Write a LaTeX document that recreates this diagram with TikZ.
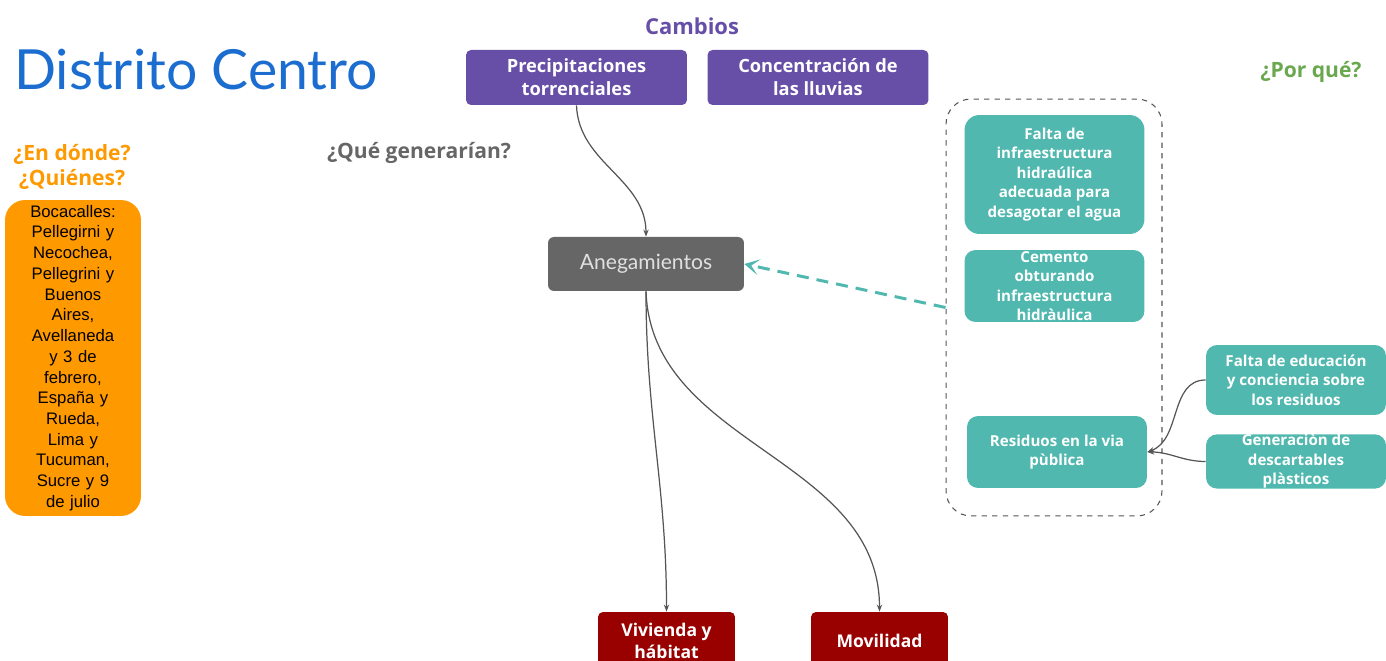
\documentclass[tikz,border=0pt]{standalone}
\usepackage{fontspec}
\setmainfont{Open Sans}
\newfontfamily\titlefont{Lato}
\newfontfamily\arialfont{Liberation Sans}
\usetikzlibrary{arrows.meta}

\definecolor{morado}{HTML}{674EA7}
\definecolor{verdeagua}{HTML}{50B8AF}
\definecolor{naranja}{HTML}{FF9900}
\definecolor{bordo}{HTML}{990000}
\definecolor{gris}{HTML}{666666}
\definecolor{azul}{HTML}{1C6DD0}
\definecolor{verde}{HTML}{6AA84F}
\definecolor{linea}{HTML}{555555}

\begin{document}
\begin{tikzpicture}[x=0.02cm, y=-0.02cm,
    cambio/.style={fill=morado, rounded corners=0.1cm, text=white, align=center,
      minimum width=4.42cm, minimum height=1.1cm, inner sep=0pt,
      font=\bfseries\fontsize{10.4}{13.1}\selectfont},
    causa/.style={fill=verdeagua, rounded corners=0.22cm, text=white, align=center,
      minimum width=3.6cm, inner sep=0pt, font=\bfseries\fontsize{8.6}{11.1}\selectfont},
    efecto/.style={fill=bordo, rounded corners=0.1cm, text=white, align=center,
      minimum width=2.74cm, minimum height=1.16cm, inner sep=0pt,
      font=\bfseries\fontsize{10}{12.6}\selectfont},
    flecha/.style={draw=linea, line width=0.7pt, -{Stealth[length=4pt, width=3pt]}}]
  \useasboundingbox (0,0) rectangle (1386,661);

  % Titles
  \node (titulo) [text=azul, anchor=west, font=\titlefont\fontsize{31.5}{36}\selectfont] at (8,70) {Distrito Centro};
  \node (cambios) [text=morado, font=\bfseries\fontsize{12.5}{14}\selectfont] at (692,26) {Cambios};
  \node (porque) [text=verde, font=\bfseries\fontsize{12}{13}\selectfont] at (1311,72) {¿Por qué?};
  \node (donde) [text=naranja, align=center, font=\bfseries\fontsize{12}{14.2}\selectfont] at (72,167) {¿En dónde?\\¿Quiénes?};
  \node (generan) [text=gris, font=\bfseries\fontsize{12}{13}\selectfont] at (419,153) {¿Qué generarían?};

  % Where
  \node (lugares) [fill=naranja, rounded corners=0.4cm, minimum width=2.72cm, minimum height=6.32cm,
    text width=2.6cm, align=center, inner sep=0pt, font=\arialfont\fontsize{9.5}{11.8}\selectfont] at (73,358)
    {Bocacalles:\\Pellegirni y\\Necochea,\\Pellegrini y\\Buenos\\Aires,\\Avellaneda\\y 3 de\\febrero,\\España y\\Rueda,\\Lima y\\Tucuman,\\Sucre y 9\\de julio};

  % Changes
  \node (prec) [cambio] at (576.5,77.5) {Precipitaciones\\torrenciales};
  \node (conc) [cambio] at (818,77.5) {Concentración de\\las lluvias};

  % Problem
  \node (aneg) [fill=gris, rounded corners=0.12cm, minimum width=3.92cm, minimum height=1.08cm,
    text=white!88!black, font=\titlefont\fontsize{12}{14}\selectfont] at (646,264) {Anegamientos};

  % Causes
  \node (grupo) [draw=linea, dashed, line width=0.6pt, rounded corners=0.5cm,
    minimum width=4.32cm, minimum height=8.34cm] at (1054,307.5) {};
  \node (falta) [causa, minimum height=2.38cm, rounded corners=0.3cm] at (1054.5,174.5)
    {Falta de\\infraestructura\\hidraúlica\\adecuada para\\desagotar el agua};
  \node (cemento) [causa, minimum height=1.44cm] at (1054.5,286)
    {Cemento\\obturando\\infraestructura\\hidràulica};
  \node (residuos) [causa, minimum height=1.44cm] at (1057,452)
    {Residuos en la via\\pùblica};
  \node (educ) [causa, minimum height=1.4cm] at (1296,380)
    {Falta de educación\\y conciencia sobre\\los residuos};
  \node (gener) [causa, minimum height=1.06cm] at (1296,461.5)
    {Generaciòn de\\descartables\\plàsticos};

  % Effects
  \node (viv) [efecto] at (666.5,641) {Vivienda y\\hábitat};
  \node (mov) [efecto] at (879.5,641) {Movilidad};

  % Arrows
  \draw[flecha] (prec.south) to[out=-88, in=90] (aneg.north);
  \draw[flecha] (aneg.south) to[out=-90, in=90] (viv.north);
  \draw[flecha] (aneg.south) to[out=-88, in=90] (mov.north);
  \draw[flecha] (educ.west) to[out=180, in=20] (residuos.east);
  \draw[flecha] (gener.west) to[out=180, in=0] (residuos.east);
  \draw[draw=verdeagua, line width=1.7pt, dash pattern=on 0.24cm off 0.16cm,
    -{Stealth[length=0.3cm, width=0.32cm, inset=0.16cm]}] (grupo.west) -- (aneg.east);
\end{tikzpicture}
\end{document}
